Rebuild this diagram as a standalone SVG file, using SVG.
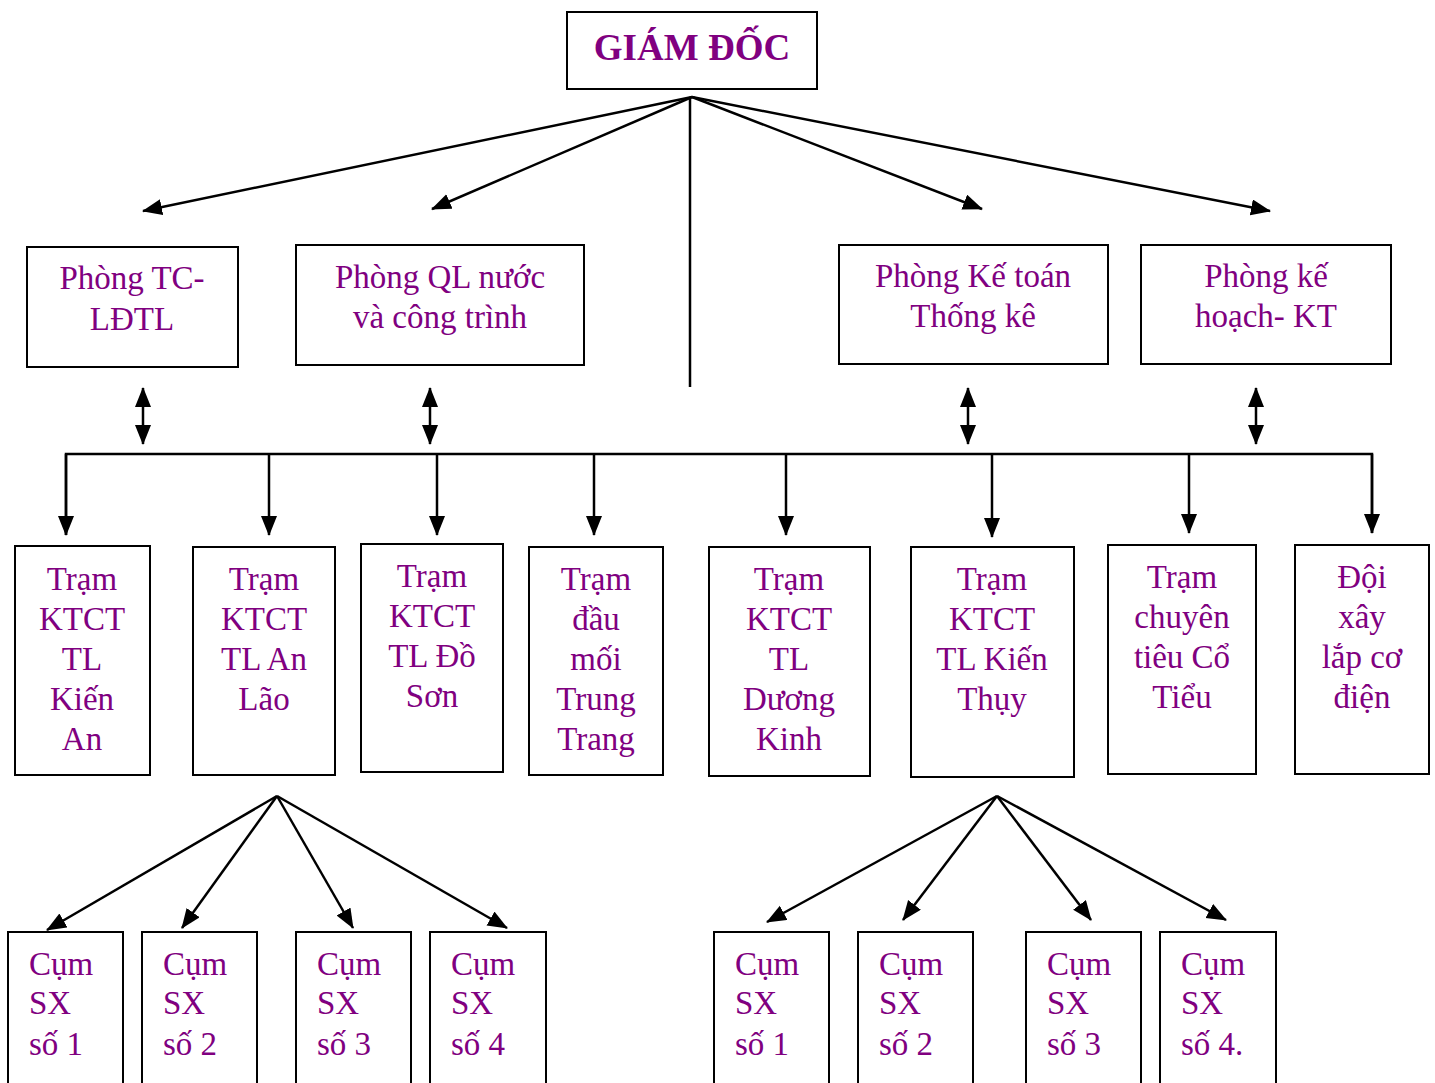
<svg xmlns="http://www.w3.org/2000/svg" width="1435" height="1083" viewBox="0 0 1435 1083">
<style>
.box{fill:#fff;stroke:#000;stroke-width:2}
.t{font-family:"Liberation Serif","Times New Roman",serif;font-size:33px;fill:#800080;text-anchor:middle}
.tl{font-family:"Liberation Serif","Times New Roman",serif;font-size:33px;fill:#800080}
.title{font-family:"Liberation Serif","Times New Roman",serif;font-size:37px;font-weight:bold;fill:#800080;text-anchor:middle}
.c{stroke:#000;stroke-width:2.5;fill:none}
</style>
<defs>
<marker id="ah" markerUnits="userSpaceOnUse" markerWidth="22" markerHeight="18" refX="19" refY="8" orient="auto">
<path d="M0,0 L20,8 L0,16 Z" fill="#000"/>
</marker>
<marker id="as" markerUnits="userSpaceOnUse" markerWidth="22" markerHeight="18" refX="1" refY="8" orient="auto">
<path d="M20,0 L0,8 L20,16 Z" fill="#000"/>
</marker>
</defs>
<rect width="1435" height="1083" fill="#fff"/>
<g id="connectors">
<line class="c" x1="692" y1="97" x2="143" y2="211" marker-end="url(#ah)"/>
<line class="c" x1="692" y1="97" x2="432" y2="209" marker-end="url(#ah)"/>
<line class="c" x1="692" y1="97" x2="982" y2="209" marker-end="url(#ah)"/>
<line class="c" x1="692" y1="97" x2="1270" y2="211" marker-end="url(#ah)"/>
<line class="c" x1="690" y1="97" x2="690" y2="387"/>
<line class="c" x1="143" y1="388" x2="143" y2="444" marker-start="url(#as)" marker-end="url(#ah)"/>
<line class="c" x1="430" y1="388" x2="430" y2="444" marker-start="url(#as)" marker-end="url(#ah)"/>
<line class="c" x1="968" y1="388" x2="968" y2="444" marker-start="url(#as)" marker-end="url(#ah)"/>
<line class="c" x1="1256" y1="388" x2="1256" y2="444" marker-start="url(#as)" marker-end="url(#ah)"/>
<polyline class="c" points="66,535 66,454 1372,454 1372,533"/>
<line class="c" x1="66" y1="454" x2="66" y2="535" marker-end="url(#ah)"/>
<line class="c" x1="269" y1="454" x2="269" y2="535" marker-end="url(#ah)"/>
<line class="c" x1="437" y1="454" x2="437" y2="535" marker-end="url(#ah)"/>
<line class="c" x1="594" y1="454" x2="594" y2="535" marker-end="url(#ah)"/>
<line class="c" x1="786" y1="454" x2="786" y2="535" marker-end="url(#ah)"/>
<line class="c" x1="992" y1="454" x2="992" y2="537" marker-end="url(#ah)"/>
<line class="c" x1="1189" y1="454" x2="1189" y2="533" marker-end="url(#ah)"/>
<line class="c" x1="1372" y1="454" x2="1372" y2="533" marker-end="url(#ah)"/>
<line class="c" x1="277" y1="796" x2="47" y2="930" marker-end="url(#ah)"/>
<line class="c" x1="277" y1="796" x2="182" y2="928" marker-end="url(#ah)"/>
<line class="c" x1="277" y1="796" x2="353" y2="928" marker-end="url(#ah)"/>
<line class="c" x1="277" y1="796" x2="507" y2="928" marker-end="url(#ah)"/>
<line class="c" x1="997" y1="796" x2="767" y2="922" marker-end="url(#ah)"/>
<line class="c" x1="997" y1="796" x2="903" y2="920" marker-end="url(#ah)"/>
<line class="c" x1="997" y1="796" x2="1091" y2="920" marker-end="url(#ah)"/>
<line class="c" x1="997" y1="796" x2="1226" y2="920" marker-end="url(#ah)"/>
</g>
<g id="giamdoc"><rect class="box" x="567" y="12" width="250" height="77"/><text class="title" x="692" y="60">GIÁM ĐỐC</text></g>
<g id="p-tc"><rect class="box" x="27" y="247" width="211" height="120"/><text class="t" x="132" y="289">Phòng TC-</text><text class="t" x="132" y="330">LĐTL</text></g>
<g id="p-ql"><rect class="box" x="296" y="245" width="288" height="120"/><text class="t" x="440" y="288">Phòng QL nước</text><text class="t" x="440" y="328">và công trình</text></g>
<g id="p-kt"><rect class="box" x="839" y="245" width="269" height="119"/><text class="t" x="973" y="287">Phòng Kế toán</text><text class="t" x="973" y="327">Thống kê</text></g>
<g id="p-kh"><rect class="box" x="1141" y="245" width="250" height="119"/><text class="t" x="1266" y="287">Phòng kế</text><text class="t" x="1266" y="327">hoạch- KT</text></g>
<g id="tram1"><rect class="box" x="15" y="546" width="135" height="229"/><text class="t" x="82" y="590">Trạm</text><text class="t" x="82" y="630">KTCT</text><text class="t" x="82" y="670">TL</text><text class="t" x="82" y="710">Kiến</text><text class="t" x="82" y="750">An</text></g>
<g id="tram2"><rect class="box" x="193" y="547" width="142" height="228"/><text class="t" x="264" y="590">Trạm</text><text class="t" x="264" y="630">KTCT</text><text class="t" x="264" y="670">TL An</text><text class="t" x="264" y="710">Lão</text></g>
<g id="tram3"><rect class="box" x="361" y="544" width="142" height="228"/><text class="t" x="432" y="587">Trạm</text><text class="t" x="432" y="627">KTCT</text><text class="t" x="432" y="667">TL Đồ</text><text class="t" x="432" y="707">Sơn</text></g>
<g id="tram4"><rect class="box" x="529" y="547" width="134" height="228"/><text class="t" x="596" y="590">Trạm</text><text class="t" x="596" y="630">đầu</text><text class="t" x="596" y="670">mối</text><text class="t" x="596" y="710">Trung</text><text class="t" x="596" y="750">Trang</text></g>
<g id="tram5"><rect class="box" x="709" y="547" width="161" height="229"/><text class="t" x="789" y="590">Trạm</text><text class="t" x="789" y="630">KTCT</text><text class="t" x="789" y="670">TL</text><text class="t" x="789" y="710">Dương</text><text class="t" x="789" y="750">Kinh</text></g>
<g id="tram6"><rect class="box" x="911" y="547" width="163" height="230"/><text class="t" x="992" y="590">Trạm</text><text class="t" x="992" y="630">KTCT</text><text class="t" x="992" y="670">TL Kiến</text><text class="t" x="992" y="710">Thụy</text></g>
<g id="tram7"><rect class="box" x="1108" y="545" width="148" height="229"/><text class="t" x="1182" y="588">Trạm</text><text class="t" x="1182" y="628">chuyên</text><text class="t" x="1182" y="668">tiêu Cổ</text><text class="t" x="1182" y="708">Tiểu</text></g>
<g id="doi"><rect class="box" x="1295" y="545" width="134" height="229"/><text class="t" x="1362" y="588">Đội</text><text class="t" x="1362" y="628">xây</text><text class="t" x="1362" y="668">lắp cơ</text><text class="t" x="1362" y="708">điện</text></g>
<g id="cumA1"><rect class="box" x="8" y="932" width="115" height="160"/><text class="tl" x="29" y="975">Cụm</text><text class="tl" x="29" y="1014">SX</text><text class="tl" x="29" y="1055">số 1</text></g>
<g id="cumA2"><rect class="box" x="142" y="932" width="115" height="160"/><text class="tl" x="163" y="975">Cụm</text><text class="tl" x="163" y="1014">SX</text><text class="tl" x="163" y="1055">số 2</text></g>
<g id="cumA3"><rect class="box" x="296" y="932" width="115" height="160"/><text class="tl" x="317" y="975">Cụm</text><text class="tl" x="317" y="1014">SX</text><text class="tl" x="317" y="1055">số 3</text></g>
<g id="cumA4"><rect class="box" x="430" y="932" width="116" height="160"/><text class="tl" x="451" y="975">Cụm</text><text class="tl" x="451" y="1014">SX</text><text class="tl" x="451" y="1055">số 4</text></g>
<g id="cumB1"><rect class="box" x="714" y="932" width="115" height="160"/><text class="tl" x="735" y="975">Cụm</text><text class="tl" x="735" y="1014">SX</text><text class="tl" x="735" y="1055">số 1</text></g>
<g id="cumB2"><rect class="box" x="858" y="932" width="115" height="160"/><text class="tl" x="879" y="975">Cụm</text><text class="tl" x="879" y="1014">SX</text><text class="tl" x="879" y="1055">số 2</text></g>
<g id="cumB3"><rect class="box" x="1026" y="932" width="115" height="160"/><text class="tl" x="1047" y="975">Cụm</text><text class="tl" x="1047" y="1014">SX</text><text class="tl" x="1047" y="1055">số 3</text></g>
<g id="cumB4"><rect class="box" x="1160" y="932" width="116" height="160"/><text class="tl" x="1181" y="975">Cụm</text><text class="tl" x="1181" y="1014">SX</text><text class="tl" x="1181" y="1055">số 4.</text></g>
</svg>
